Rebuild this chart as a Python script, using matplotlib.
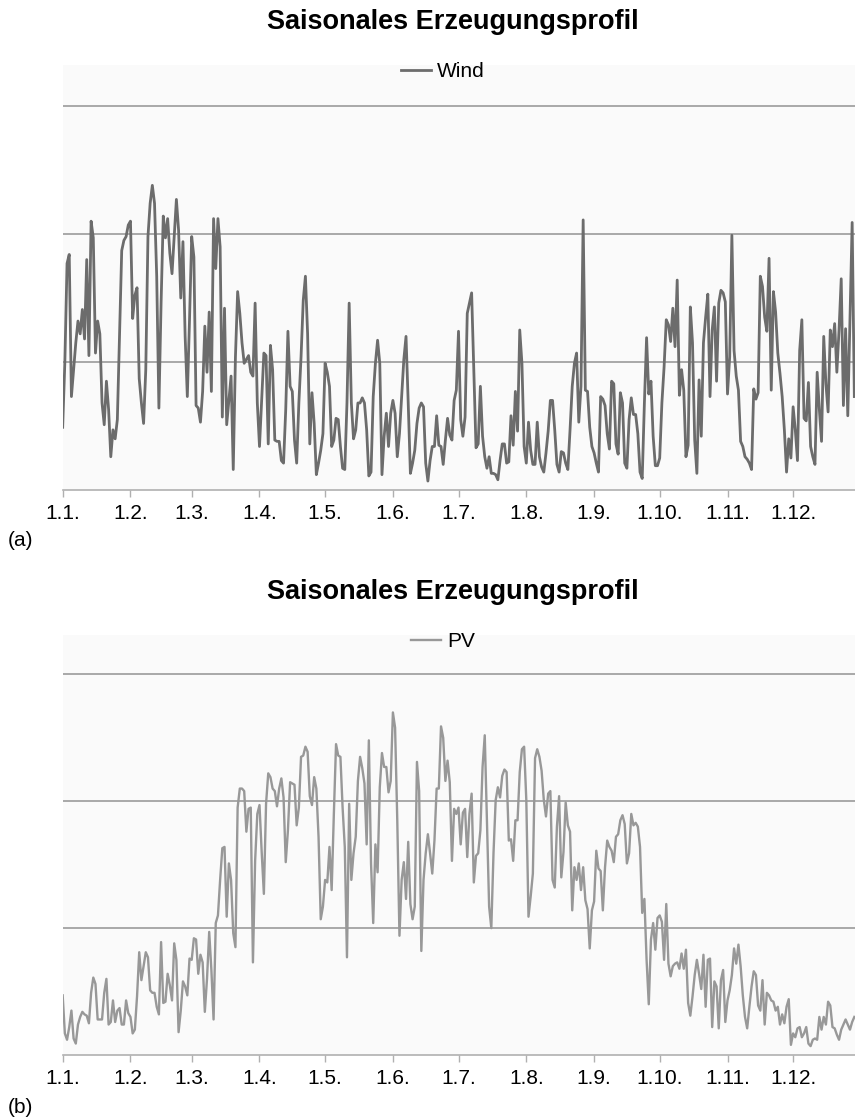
import numpy as np
import matplotlib
matplotlib.use('Agg')
import matplotlib.pyplot as plt

plt.rcParams['font.family'] = ['Liberation Sans', 'DejaVu Sans']

# month starts (day of year) and tick labels
month_starts = [0, 31, 59, 90, 120, 151, 181, 212, 243, 273, 304, 334]
month_labels = ['1.1.', '1.2.', '1.3.', '1.4.', '1.5.', '1.6.',
                '1.7.', '1.8.', '1.9.', '1.10.', '1.11.', '1.12.']

# daily wind generation (gridline units)
wind = [
    0.49, 1.00, 1.77, 1.84, 0.73, 0.94, 1.15, 1.32, 1.22, 1.41,
    1.18, 1.80, 1.05, 2.10, 1.97, 1.07, 1.32, 1.22, 0.68, 0.51,
    0.85, 0.63, 0.26, 0.47, 0.40, 0.55, 1.20, 1.87, 1.95, 1.98,
    2.07, 2.10, 1.34, 1.52, 1.58, 0.87, 0.68, 0.52, 0.94, 1.98,
    2.24, 2.38, 2.24, 1.67, 0.64, 1.46, 2.14, 1.97, 2.12, 1.85,
    1.69, 1.98, 2.27, 2.03, 1.50, 1.94, 1.20, 0.73, 1.33, 1.98,
    1.82, 0.66, 0.64, 0.53, 0.77, 1.28, 0.92, 1.39, 0.77, 2.12,
    1.73, 2.12, 1.90, 0.57, 1.42, 0.51, 0.70, 0.89, 0.16, 1.04,
    1.55, 1.38, 1.15, 0.99, 1.02, 1.05, 0.92, 0.89, 1.46, 0.68,
    0.34, 0.70, 1.07, 1.05, 0.36, 1.13, 0.94, 0.39, 0.38, 0.38,
    0.23, 0.21, 0.63, 1.24, 0.81, 0.77, 0.39, 0.21, 0.68, 1.04,
    1.48, 1.67, 1.22, 0.36, 0.76, 0.52, 0.12, 0.21, 0.31, 0.44,
    0.99, 0.92, 0.81, 0.34, 0.39, 0.56, 0.55, 0.34, 0.17, 0.16,
    0.68, 1.46, 0.68, 0.40, 0.47, 0.68, 0.68, 0.72, 0.68, 0.47,
    0.11, 0.14, 0.73, 0.99, 1.17, 0.99, 0.12, 0.42, 0.60, 0.34,
    0.60, 0.70, 0.60, 0.26, 0.44, 0.73, 1.02, 1.20, 0.68, 0.13,
    0.21, 0.31, 0.52, 0.64, 0.68, 0.65, 0.21, 0.07, 0.23, 0.34,
    0.34, 0.58, 0.35, 0.34, 0.20, 0.39, 0.56, 0.43, 0.39, 0.70,
    0.78, 1.24, 0.55, 0.42, 0.57, 1.38, 1.46, 1.54, 0.94, 0.33,
    0.36, 0.81, 0.42, 0.26, 0.17, 0.26, 0.13, 0.13, 0.12, 0.08,
    0.23, 0.36, 0.36, 0.21, 0.22, 0.58, 0.35, 0.77, 0.46, 1.25,
    0.99, 0.34, 0.21, 0.53, 0.31, 0.20, 0.20, 0.53, 0.26, 0.18,
    0.14, 0.29, 0.46, 0.70, 0.70, 0.47, 0.20, 0.14, 0.30, 0.29,
    0.21, 0.16, 0.47, 0.81, 0.99, 1.07, 0.53, 0.81, 2.11, 0.78,
    0.77, 0.49, 0.34, 0.29, 0.21, 0.14, 0.73, 0.71, 0.66, 0.44,
    0.32, 0.85, 0.83, 0.36, 0.28, 0.76, 0.68, 0.21, 0.17, 0.55,
    0.72, 0.59, 0.59, 0.44, 0.14, 0.09, 0.68, 1.19, 0.75, 0.85,
    0.42, 0.19, 0.19, 0.25, 0.68, 0.96, 1.33, 1.29, 1.16, 1.42,
    1.12, 1.64, 0.74, 0.94, 0.78, 0.26, 0.35, 1.43, 1.15, 0.39,
    0.13, 0.86, 0.42, 1.15, 1.35, 1.53, 0.73, 1.25, 1.43, 0.85,
    1.46, 1.56, 1.54, 1.47, 0.75, 1.04, 1.99, 1.09, 0.89, 0.78,
    0.38, 0.34, 0.26, 0.24, 0.21, 0.16, 0.79, 0.71, 0.76, 1.67,
    1.59, 1.35, 1.24, 1.81, 0.78, 1.55, 1.39, 1.07, 0.91, 0.73,
    0.47, 0.14, 0.40, 0.25, 0.65, 0.47, 0.23, 1.09, 1.33, 0.56,
    0.54, 0.84, 0.34, 0.26, 0.20, 0.92, 0.63, 0.38, 1.20, 0.83,
    0.61, 1.25, 1.12, 1.30, 0.92, 1.25, 1.65, 0.66, 1.26, 0.58,
    1.33, 2.09, 0.73,
]

# daily PV generation (gridline units)
pv = [
    0.47, 0.17, 0.12, 0.22, 0.35, 0.13, 0.09, 0.24, 0.30, 0.34,
    0.32, 0.31, 0.25, 0.49, 0.61, 0.56, 0.28, 0.28, 0.28, 0.49,
    0.60, 0.24, 0.26, 0.43, 0.26, 0.35, 0.37, 0.24, 0.24, 0.43,
    0.33, 0.30, 0.17, 0.20, 0.46, 0.81, 0.59, 0.70, 0.81, 0.77,
    0.51, 0.49, 0.49, 0.38, 0.32, 0.89, 0.41, 0.42, 0.64, 0.55,
    0.43, 0.88, 0.75, 0.18, 0.35, 0.58, 0.54, 0.47, 0.76, 0.75,
    0.92, 0.91, 0.64, 0.79, 0.73, 0.34, 0.60, 0.97, 0.67, 0.28,
    1.04, 1.10, 1.38, 1.63, 1.64, 1.09, 1.51, 1.38, 0.96, 0.85,
    1.95, 2.10, 2.10, 2.08, 1.76, 1.94, 1.95, 0.73, 1.53, 1.90,
    1.97, 1.60, 1.27, 1.98,
    2.22, 2.19, 2.10, 2.08, 1.96, 2.10, 2.18, 2.03, 1.52, 1.77,
    2.15, 2.14, 2.13, 1.81, 1.95, 2.35, 2.36, 2.43, 2.39, 2.04,
    1.97, 2.19, 2.10, 1.72, 1.07, 1.17, 1.38, 1.36, 1.64, 1.30,
    1.90, 2.45, 2.36, 2.35, 1.95, 1.64, 0.77, 1.98, 1.38, 1.59,
    1.72, 2.16, 2.35, 2.26, 2.14, 1.66, 2.48, 1.51, 1.04, 1.66,
    1.44, 2.11, 2.38, 2.27, 2.27, 2.07, 2.16, 2.70, 2.58, 1.85,
    0.94, 1.38, 1.52, 1.23, 1.68, 1.19, 1.07, 1.17, 2.31, 2.08,
    0.82, 1.38, 1.59, 1.74, 1.59, 1.43, 1.69, 2.10, 2.10, 2.59,
    2.50, 2.16, 2.32, 2.15, 1.53, 1.94, 1.90, 1.95,
    1.66, 1.91, 1.94, 1.56, 1.90, 2.06, 1.36, 1.57, 1.59, 1.77,
    2.27, 2.52, 1.85, 1.17, 1.00, 1.59, 2.01, 2.11, 2.03, 2.20,
    2.25, 2.23, 1.69, 1.70, 1.53, 1.85, 1.85, 2.23, 2.41, 2.43,
    2.01, 1.09, 1.25, 1.43, 2.34, 2.41, 2.35, 2.24, 2.01, 1.88,
    2.06, 2.08, 1.38, 1.32, 1.80, 2.04, 1.40, 1.60, 1.99, 1.81,
    1.76, 1.14, 1.48, 1.38, 1.51, 1.30, 1.48, 1.22, 1.15, 0.84,
    1.14, 1.21, 1.61, 1.47, 1.45, 1.14, 1.48, 1.69, 1.64, 1.61,
    1.52, 1.72, 1.74, 1.85, 1.89, 1.82, 1.51, 1.59, 1.90, 1.81,
    1.83, 1.80,
    1.64, 1.12, 1.23, 0.75, 0.40, 0.91, 1.04, 0.83, 1.08, 1.10,
    1.05, 0.75, 1.19, 0.72, 0.62, 0.70, 0.72, 0.73, 0.68, 0.80,
    0.68, 0.83, 0.41, 0.31, 0.46, 0.63, 0.75, 0.64, 0.52, 0.79,
    0.38, 0.75, 0.76, 0.22, 0.58, 0.54, 0.21, 0.59, 0.67, 0.26,
    0.43, 0.51, 0.63, 0.84, 0.72, 0.87, 0.70, 0.47, 0.30, 0.21,
    0.38, 0.54, 0.66, 0.63, 0.39, 0.35, 0.59, 0.24, 0.49, 0.47,
    0.43, 0.42, 0.35, 0.38, 0.24, 0.32, 0.25, 0.38, 0.44, 0.08,
    0.17, 0.14, 0.21, 0.22, 0.14, 0.17, 0.22, 0.09, 0.07, 0.12,
    0.13, 0.12, 0.30, 0.20, 0.30, 0.24, 0.42, 0.39, 0.22, 0.21,
    0.16, 0.12, 0.20, 0.24, 0.28, 0.24, 0.20, 0.26, 0.30,
]

fig = plt.figure(figsize=(8.55, 11.19), dpi=100)

panels = [
    # (values, label, color, linewidth, axes rect, ylim top, title y, tag, tag y)
    (wind, 'Wind', '#6c6c6c', 2.0, [0.0733, 0.5621, 0.9267, 0.3798], 3.32, 0.980, '(a)', 0.5174),
    (pv, 'PV', '#989898', 1.7, [0.0733, 0.0572, 0.9267, 0.3753], 3.31, 0.471, '(b)', 0.0107),
]

for vals, name, col, lw, rect, ytop, ty, tag, tagy in panels:
    ax = fig.add_axes(rect)
    ax.set_facecolor('#fafafa')
    days = np.arange(len(vals))
    ax.plot(days, vals, color=col, lw=lw, label=name)
    ax.set_xlim(0, 362.3)
    ax.set_ylim(0, ytop)
    ax.set_yticks([1, 2, 3])
    ax.yaxis.grid(True, color='#9a9a9a', lw=1.2)
    ax.tick_params(axis='y', length=0, labelleft=False)
    ax.set_xticks(month_starts)
    ax.set_xticklabels(month_labels, fontsize=15)
    ax.tick_params(axis='x', length=5, width=1, color='#b0b0b0', pad=5)
    for s in ['top', 'right', 'left']:
        ax.spines[s].set_visible(False)
    ax.spines['bottom'].set_color('#b0b0b0')
    ax.spines['bottom'].set_linewidth(1.2)
    ax.set_axisbelow(True)
    ax.legend(loc='center', bbox_to_anchor=(0.48, 0.985), frameon=False,
              fontsize=15, handlelength=1.4, handletextpad=0.3)
    fig.text(0.53, ty, 'Saisonales Erzeugungsprofil', ha='center', va='center',
             fontsize=19.5, fontweight='bold')
    fig.text(0.009, tagy, tag, ha='left', va='center', fontsize=15)

fig.savefig('out.png', dpi=100)
